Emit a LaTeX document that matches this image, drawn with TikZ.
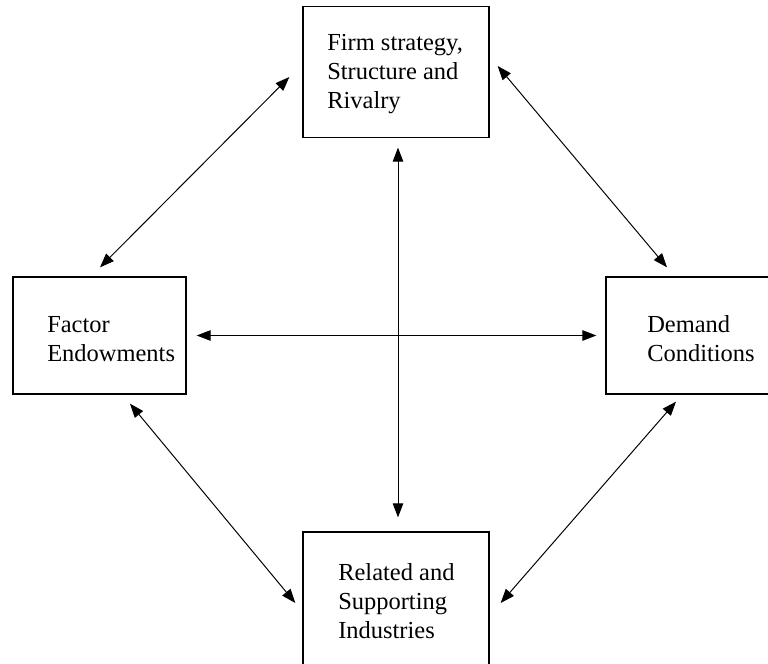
\documentclass[tikz,border=0pt]{standalone}
\usepackage{fontspec}
\setmainfont{Liberation Serif}
\usepackage{tikz}
\usetikzlibrary{arrows.meta,calc}

\begin{document}
\begin{tikzpicture}[
    x=0.025cm, y=-0.025cm,
    every node/.style={font=\fontsize{17.4}{20.6}\selectfont},
    box/.style={draw, line width=0.9pt, inner sep=0pt},
    widebox/.style={box, minimum width=4.65cm},
    sidebox/.style={box, minimum width=4.325cm, minimum height=2.925cm},
    boxtext/.style={anchor=west, align=left, inner sep=0pt},
    arrow/.style={<->, >={Triangle[length=10pt, width=7.5pt]}, line width=0.7pt}
  ]

  % --- Frame (the picture is cut at the right and the bottom) ---
  \clip (0,0) rectangle (768,663);

  % --- Four boxes ---
  \node[widebox, minimum height=3.275cm] (firm) at (396,72) {};
  \node[sidebox] (factor) at (99.5,335.5) {};
  \node[sidebox] (demand) at (692.5,335.5) {};
  \node[widebox, minimum height=3.4cm] (related) at (396,600) {};

  % --- Box texts ---
  \node[boxtext] (firmtxt) at (327,74) {Firm strategy,\\Structure and\\Rivalry};
  \node[boxtext] (factortxt) at (47,339) {Factor\\Endowments};
  \node[boxtext] (demandtxt) at (647,339) {Demand\\Conditions};
  \node[boxtext] (relatedtxt) at (338,601) {Related and\\Supporting\\Industries};

  % --- Arrows round the diamond ---
  \draw[arrow] ($(factor.north)+(0.5,-9)$) -- ($(firm.west)+(-13,5)$);
  \draw[arrow] ($(firm.east)+(8,-6)$) -- ($(demand.north)+(-25.5,-9)$);
  \draw[arrow] ($(factor.south)+(30.5,9)$) -- ($(related.west)+(-7,3)$);
  \draw[arrow] ($(demand.south)+(-16.5,7)$) -- ($(related.east)+(11,3)$);

  % --- Arrows through the middle ---
  \draw[arrow] ($(factor.east)+(10,0)$) -- ($(demand.west)+(-9,0)$);
  \draw[arrow] ($(firm.south)+(2,9.5)$) -- ($(related.north)+(2,-14)$);

\end{tikzpicture}
\end{document}
